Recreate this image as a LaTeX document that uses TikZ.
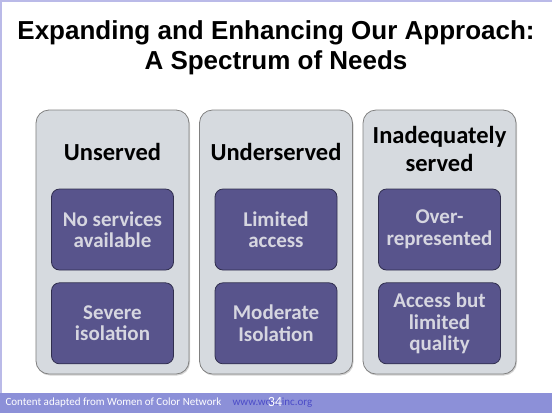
\documentclass[tikz,border=0pt]{standalone}
\usepackage{fontspec}
\setmainfont{Carlito}
\newfontfamily\arialfont{Liberation Sans}
\usetikzlibrary{positioning,shadows}
\definecolor{wocframe}{RGB}{186,186,232}
\definecolor{wocbar}{RGB}{140,144,216}
\definecolor{woclink}{RGB}{76,76,200}
\definecolor{colfill}{RGB}{214,218,223}
\definecolor{colline}{RGB}{128,128,128}
\definecolor{needfill}{RGB}{88,84,140}
\definecolor{needline}{RGB}{48,46,78}
\definecolor{needtext}{RGB}{214,214,224}

\begin{document}
\begin{tikzpicture}[x=1bp,y=-1bp,
    column/.style={draw=colline,fill=colfill,rounded corners=13bp,line width=0.8bp,
      minimum width=153bp,minimum height=264bp,
      drop shadow={shadow xshift=1bp,shadow yshift=-1.5bp,opacity=0.35}},
    heading/.style={font=\bfseries\fontsize{24.5bp}{28bp}\selectfont,align=center},
    need/.style={draw=needline,fill=needfill,rounded corners=8bp,line width=0.8bp,
      minimum width=122bp,minimum height=81bp,text=needtext,align=center,
      font=\bfseries\fontsize{21bp}{21.5bp}\selectfont},
    footer/.style={anchor=west,font=\fontsize{11bp}{12bp}\selectfont}]
    \useasboundingbox (0,0) rectangle (552,413);
    % slide frame and footer bar
    \draw[wocframe,line width=1.5bp] (0.75,413) -- (0.75,0.75) -- (552,0.75);
    \fill[wocbar] (0,393) rectangle (552,413);
    % title
    \node[font=\arialfont\bfseries\fontsize{26bp}{29.5bp}\selectfont,align=center] (title) at (276,48)
      {Expanding and Enhancing Our Approach:\\A Spectrum of Needs};
    % three columns
    \node[column] (unserved) at (112.5,242) {};
    \node[column] (underserved) at (276,242) {};
    \node[column] (inadequate) at (439.5,242) {};
    \node[heading] (head1) at (112.5,152) {Unserved};
    \node[heading] (head2) at (276,152) {Underserved};
    \node[heading] (head3) at (439.5,149) {Inadequately\\served};
    % needs in each column
    \node[need] (none) at (112.5,229.5) {No services\\available};
    \node[need,below=12bp of none] (severe) {Severe\\isolation};
    \node[need] (limited) at (276,229.5) {Limited\\access};
    \node[need,below=12bp of limited] (moderate) {Moderate\\Isolation};
    \node[need] (over) at (439.5,229.5) {Over-\\represented};
    \node[need,below=12bp of over] (quality) {Access but\\limited\\quality};
    % footer text
    \node[footer,text=white] (credit) at (2,403)
      {Content adapted from Women of Color Network};
    \node[footer,text=woclink] (site) at (229,403) {www.wocninc.org};
    \node[text=white,font=\fontsize{14bp}{15bp}\selectfont] (page) at (275,402) {34};
\end{tikzpicture}
\end{document}
